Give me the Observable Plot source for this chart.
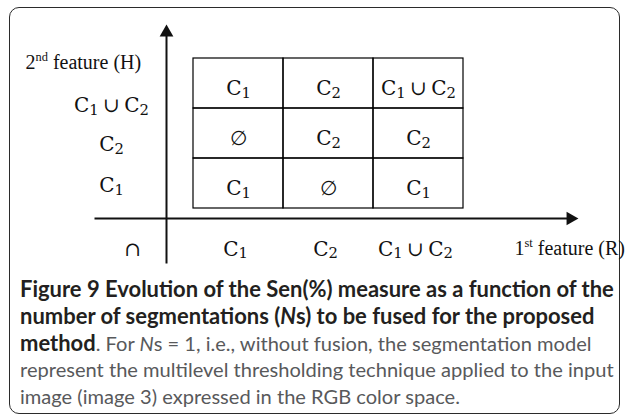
<!DOCTYPE html>
<html><head><meta charset="utf-8">
<script src="https://cdn.jsdelivr.net/npm/d3@7"></script>
<script src="https://cdn.jsdelivr.net/npm/@observablehq/plot@0.6"></script>
<style>
html,body{margin:0;padding:0;background:#fff;}
#wrap{position:relative;width:627px;height:416px;overflow:hidden;background:#fff}
#box{position:absolute;left:9px;top:7px;width:611px;height:407px;border:1.4px solid #2b2b2b;border-radius:10px;box-sizing:border-box}
#chart{position:absolute;left:0;top:0}
#caption{position:absolute;left:20px;top:276px;font-family:Lato, sans-serif;font-size:17px;line-height:26.8px;color:#58595b;white-space:nowrap}
#caption b{color:#231f20;font-weight:700}
#caption .ln span.m{display:inline-block}
</style></head>
<body><div id="wrap"><div id="box"></div><div id="chart"></div><div id="caption"></div></div>
<script>
// ---- data ----
const xCategories = ["C₁", "C₂", "C₁ ∪ C₂"];          // 1st feature (R), left to right
const yCategories = ["C₁", "C₂", "C₁ ∪ C₂"];          // 2nd feature (H), bottom to top
const fusionTable = [                                  // rows follow yCategories, columns follow xCategories
  ["C₁", "∅", "C₁"],
  ["∅", "C₂", "C₂"],
  ["C₁", "C₂", "C₁ ∪ C₂"]
];
const operatorLabel = "∩";
const xTitle = "1st feature (R)";
const yTitle = "2nd feature (H)";
const captionLines = [
  "<b>Figure 9 Evolution of the Sen(%) measure as a function of the</b>",
  "<b>number of segmentations (<i>N</i>s) to be fused for the proposed</b>",
  "<b>method</b>. For <i>N</i>s = 1, i.e., without fusion, the segmentation model",
  "represent the multilevel thresholding technique applied to the input",
  "image (image 3) expressed in the RGB color space."
];

const cells = yCategories.flatMap((row, i) =>
  xCategories.map((col, j) => ({row, col, value: fusionTable[i][j]})));

// ---- layout / style ----
const MATH = "'DejaVu Serif', serif";
const MS = 20;
const SERIF = "'Liberation Serif', serif";
const INK = "#111";
const rowLabelDy = [2, 11, 22];

const marks = [
  Plot.cell(cells, {x: "col", y: "row", fill: "none", stroke: "#000", strokeWidth: 1.2, inset: 0}),
  Plot.text(cells, {x: "col", y: "row", text: "value", fontSize: MS, fontFamily: MATH, fill: INK, dy: 5}),
  ...yCategories.map((c, i) => Plot.text([c], {y: d => d, text: d => d, frameAnchor: "left", textAnchor: "middle", dx: -82, dy: rowLabelDy[i], fontSize: MS, fontFamily: MATH, fill: INK})),
  Plot.text(xCategories, {x: d => d, text: d => d, frameAnchor: "bottom", textAnchor: "middle", dx: -3, dy: 47, fontSize: MS, fontFamily: MATH, fill: INK}),
  Plot.text([operatorLabel], {text: d => d, frameAnchor: "bottom-left", textAnchor: "middle", dx: -61, dy: 47, fontSize: MS, fontFamily: MATH, fill: INK}),
  Plot.text([xTitle], {text: d => d, frameAnchor: "bottom-right", textAnchor: "start", dx: 51, dy: 46, fontSize: 20, fontFamily: SERIF, fill: INK}),
  Plot.text([yTitle], {text: d => d, frameAnchor: "top-left", textAnchor: "start", dx: -168, dy: -4, fontSize: 20, fontFamily: SERIF, fill: INK}),
  // axes with arrows
  Plot.frame({anchor: "left", insetLeft: -27, insetTop: -30, insetBottom: -54, stroke: INK, strokeWidth: 2}),
  Plot.frame({anchor: "bottom", insetBottom: -10, insetLeft: -98, insetRight: -107, stroke: INK, strokeWidth: 2}),
  Plot.dot([0], {frameAnchor: "top-left", dx: -27, dy: -26, symbol: "triangle", r: 5.1, fill: INK, stroke: "none"}),
  Plot.dot([0], {frameAnchor: "bottom-right", dx: 107, dy: 10, symbol: "triangle", rotate: 90, r: 5.1, fill: INK, stroke: "none"})
];

const chart = Plot.plot({
  width: 627, height: 270,
  marginLeft: 193, marginRight: 164, marginTop: 58, marginBottom: 62,
  x: {type: "band", domain: xCategories, padding: 0, axis: null},
  y: {type: "band", domain: yCategories, reverse: true, padding: 0, axis: null},
  style: {background: "transparent", overflow: "visible"},
  marks
});
document.getElementById("chart").appendChild(chart);

// subscripts / ordinal superscripts as real tspans
function enrich(root) {
  const NS = "http://www.w3.org/2000/svg";
  root.querySelectorAll("text").forEach(t => {
    const s = t.textContent;
    const fs = parseFloat(getComputedStyle(t).fontSize) || 20;
    const tokens = [];
    const ord = s.match(/^(\d+)(st|nd|rd|th)(\s.*)$/);
    if (ord) {
      tokens.push({s: ord[1]}, {s: ord[2], sup: true}, {s: ord[3]});
    } else if (/[\u2080-\u2089]/.test(s)) {
      let buf = "";
      for (const ch of s) {
        const code = ch.codePointAt(0);
        if (code >= 0x2080 && code <= 0x2089) {
          if (buf) { tokens.push({s: buf}); buf = ""; }
          tokens.push({s: String(code - 0x2080), sub: true});
        } else buf += ch;
      }
      if (buf) tokens.push({s: buf});
      t.style.wordSpacing = "-2px";
    } else return;
    t.textContent = "";
    t.style.whiteSpace = "pre";
    let shift = 0;
    for (const tok of tokens) {
      const ts = document.createElementNS(NS, "tspan");
      ts.textContent = tok.s;
      const target = tok.sub ? 0.13 * fs : tok.sup ? -0.4 * fs : 0;
      const d = target - shift;
      if (d) ts.setAttribute("dy", d);
      shift = target;
      if (tok.sub) ts.setAttribute("font-size", 0.74 * fs);
      if (tok.sup) ts.setAttribute("font-size", 0.62 * fs);
      t.appendChild(ts);
    }
  });
}
enrich(chart);

// caption
const cap = document.getElementById("caption");
cap.innerHTML = captionLines.map(l => `<div class="ln"><span class="m">${l}</span></div>`).join("");
const spans = cap.querySelectorAll("span.m");
const w1 = spans[0].getBoundingClientRect().width;
const fsB = 17 * 594 / w1;
cap.style.fontSize = fsB + "px";
const w4 = spans[3].getBoundingClientRect().width;
const fsR = fsB * 594 / w4;
cap.querySelectorAll(".ln span.m").forEach(sp => { sp.style.fontSize = fsR + "px"; });
cap.querySelectorAll("b").forEach(b => { b.style.fontSize = fsB + "px"; });
</script>
</body></html>
